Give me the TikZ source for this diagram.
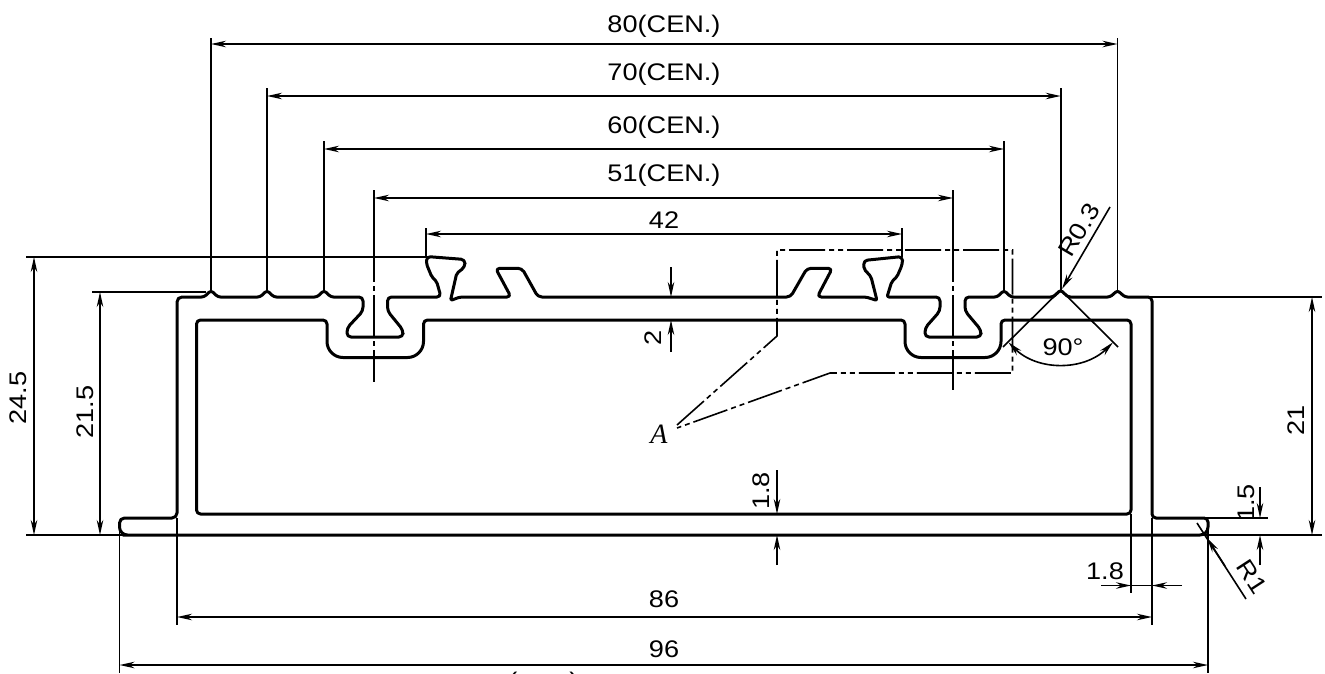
\documentclass[tikz,border=0pt]{standalone}
\usepackage{graphicx}
\usepackage{fontspec}
\setmainfont{Liberation Sans}
\usetikzlibrary{arrows.meta}
\newcommand\dt[1]{\scalebox{1.13}[1]{\fontsize{24}{26}\selectfont #1}}
\tikzset{
  x=1pt,y=-1pt,
  thin line/.style={line width=1.6pt,draw=black},
  thick line/.style={line width=3pt,draw=black,line join=round},
  dim/.style={thin line,{Stealth[length=15pt,width=6.5pt]}-{Stealth[length=15pt,width=6.5pt]}},
  lead/.style={thin line,-{Stealth[length=15pt,width=6.5pt]}},
  cen/.style={thin line,dash pattern=on 42pt off 4pt on 5pt off 4pt},
  phantomline/.style={thin line,dash pattern=on 36pt off 4pt on 5pt off 4pt on 5pt off 4pt},
  lbl/.style={inner sep=0pt,text=black}
}
\begin{document}
\begin{tikzpicture}
\clip (0,0) rectangle (1325,673);
\fill[white] (0,0) rectangle (1325,673);
% profile
\draw[thick line,rounded corners=3pt]
 (131,535) [rounded corners=8pt] -- (119.5,535) [rounded corners=5pt] -- (119.5,518) -- (177,518) -- (177,297)
 [rounded corners=2.5pt] -- (204,297) -- (211,290.5) -- (218,297) -- (260,297) -- (267,290.5) -- (274,297) -- (317,297) -- (324,290.5) -- (331,297)
 [rounded corners=4pt] -- (363,297) -- (363,311) -- (347,328) -- (347,337) -- (403,337) -- (403,330) -- (387.5,311) -- (387.5,297)
 -- (441,297) [rounded corners=2pt] -- (436.7,281.7) -- (431.7,276.7) -- (426.5,264) [rounded corners=4pt] -- (426.5,256.5) -- (465,259.5) -- (465,267) [rounded corners=2pt] -- (456.7,273.3) -- (450.5,300.5) -- (460,297)
 [rounded corners=4pt] -- (511,297) -- (495.6,268.3) -- (522,268.3) -- (538,297) -- (790.5,297) -- (807,268.3) -- (832.3,268.3) -- (817.2,297)
 [rounded corners=2pt] -- (866,297) -- (877,300.5) -- (871,276.7) -- (864,269) [rounded corners=4pt] -- (863.5,260.5) -- (902.5,256.5) -- (902.5,264) [rounded corners=2pt] -- (897,276.7) -- (891.7,281.7) -- (887,297)
 [rounded corners=4pt] -- (940,297) -- (940,311) -- (925,328) -- (925,337) -- (981,337) -- (981,330) -- (965,311) -- (965,297)
 [rounded corners=2.5pt] -- (997,297) -- (1004,290.5) -- (1011,297) -- (1053,297) -- (1060.7,290) -- (1068,297) -- (1110,297) -- (1117.5,290.5) -- (1125,297)
 [rounded corners=4pt] -- (1152,297) -- (1152,518) -- (1208,518) [rounded corners=8pt] -- (1208,535) -- cycle;
\draw[thick line,rounded corners=4pt]
 (260,320) -- (327,320) [rounded corners=16pt] -- (327,357.5) -- (423.5,357.5) [rounded corners=4pt] -- (423.5,320)
 -- (905,320) [rounded corners=16pt] -- (905,357.5) -- (1001,357.5) [rounded corners=4pt] -- (1001,320)
 -- (1131,320) -- (1131,514) -- (196.5,514) -- (196.5,320) -- cycle;
% datum and extension lines
\draw[thin line] (26,535) -- (130,535) (1200,535) -- (1322,535);
\draw[thin line] (26,257) -- (428,257);
\draw[thin line] (92,292) -- (206,292);
\draw[thin line] (1150,297) -- (1322,297);
\draw[thin line] (1204,518) -- (1268,518);
\draw[thin line] (211,38) -- (211,291) (1117.5,38) -- (1117.5,291);
\draw[thin line] (267,88) -- (267,291) (1060.7,88) -- (1060.7,290);
\draw[thin line] (324,141) -- (324,291) (1004,141) -- (1004,291);
\draw[thin line] (426,228) -- (426,258) (902,228) -- (902,257);
\draw[thin line] (177,518) -- (177,625) (1152,518) -- (1152,625) (1131,514) -- (1131,593);
\draw[thin line] (119.5,525) -- (119.5,673) (1208,525) -- (1208,673);
% centre lines
\draw[thin line] (374,190) -- (374,240) (953,190) -- (953,240);
\draw[cen] (374,240) -- (374,382);
\draw[cen] (953,240) -- (953,390);
% dimension lines
\draw[dim] (211,44) -- (1117.5,44);
\draw[dim] (267,96) -- (1060.7,96);
\draw[dim] (324,149) -- (1004,149);
\draw[dim] (374,198) -- (953,198);
\draw[dim] (426,234) -- (902,234);
\draw[dim] (34,257) -- (34,535);
\draw[dim] (100,292) -- (100,535);
\draw[dim] (1312,297) -- (1312,535);
\draw[dim] (177,617) -- (1152,617);
\draw[dim] (119.5,665) -- (1208,665);
\draw[lead] (671,267) -- (671,297);
\draw[lead] (671,352) -- (671,320);
\draw[lead] (777,470) -- (777,514);
\draw[lead] (777,565) -- (777,535);
\draw[lead] (1260,487) -- (1260,518);
\draw[lead] (1260,565) -- (1260,535);
\draw[lead] (1101,585.5) -- (1131,585.5);
\draw[lead] (1182,585.5) -- (1152,585.5);
\draw[thin line] (1131,585.5) -- (1152,585.5);
\draw[lead] (1110,207) -- (1062,289);
\draw[thin line] (1197,523) -- (1246,599);
\draw[lead] (1225,566) -- (1207,538);
% 90 degree
\draw[thin line] (1003,347) -- (1060.7,290) -- (1118,347);
\draw[dim] (1008.4,342.3) .. controls (1037.3,371.2) and (1084.1,371.2) .. (1113,342.3);
% detail A
\draw[phantomline] (677,425) -- (777,336) -- (777,250) -- (1012.5,250) -- (1012.5,373) -- (830,373) -- (677,428);
% labels
\node[lbl] (t80) at (664,26.5) {\dt{80(CEN.)}};
\node[lbl] (t70) at (664,74.5) {\dt{70(CEN.)}};
\node[lbl] (t60) at (664,127.5) {\dt{60(CEN.)}};
\node[lbl] (t51) at (664,175.5) {\dt{51(CEN.)}};
\node[lbl] (t42) at (664,220) {\dt{42}};
\node[lbl,rotate=90] (t245) at (18,398) {\dt{24.5}};
\node[lbl,rotate=90] (t215) at (85,412) {\dt{21.5}};
\node[lbl,rotate=90] (t21) at (1296,420) {\dt{21}};
\node[lbl,rotate=90] (t2) at (653,338) {\dt{2}};
\node[lbl,rotate=90] (t18a) at (761,491) {\dt{1.8}};
\node[lbl,rotate=90] (t15) at (1246,503) {\dt{1.5}};
\node[lbl] (t18b) at (1105,571) {\dt{1.8}};
\node[lbl] (t86) at (664,599) {\dt{86}};
\node[lbl] (t96) at (664,649) {\dt{96}};
\node[lbl,rotate=59.5] (tr03) at (1079,230) {\dt{R0.3}};
\node[lbl,rotate=-57] (tr1) at (1252,577) {\dt{R1}};
\node[lbl] (t90) at (1063,347) {\dt{90\raisebox{0pt}{°}}};
\node[lbl] (tA) at (659,434) {\fontspec{Liberation Serif}\itshape\fontsize{28}{30}\selectfont A};
\node[lbl] (tclip) at (543.5,683) {\dt{(\hspace{46pt})}};
\end{tikzpicture}
\end{document}
